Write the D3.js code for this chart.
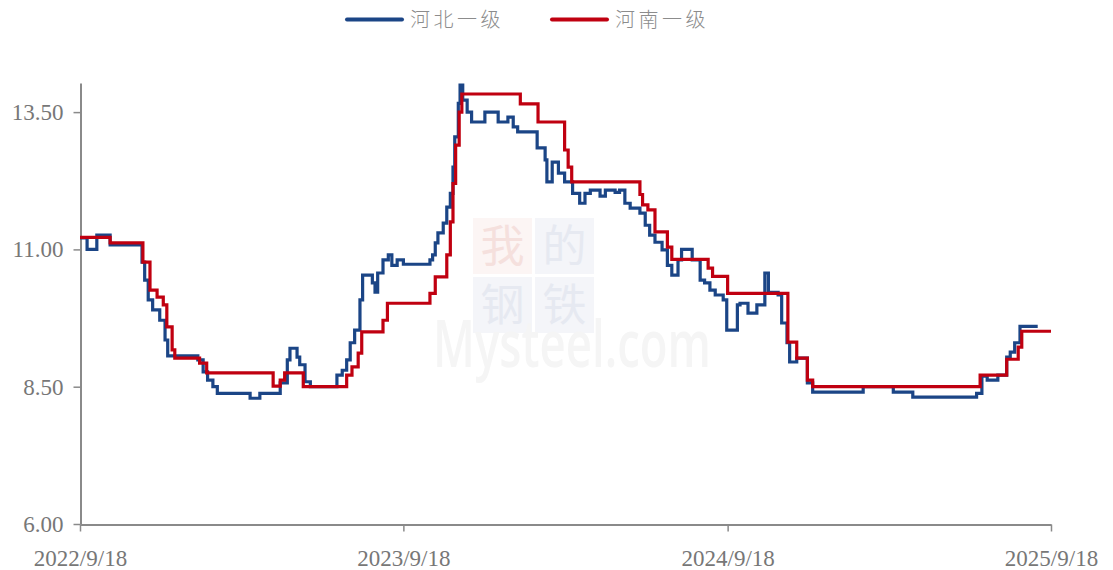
<!DOCTYPE html>
<html>
<head>
<meta charset="utf-8">
<script src="https://cdn.jsdelivr.net/npm/d3@7"></script>
<style>
  html, body { margin: 0; padding: 0; background: #fff; }
  svg { display: block; }
</style>
</head>
<body>
<svg id="chart" width="1113" height="570"></svg>
<script>
// ---------- DATA ----------
const seriesNames = ["河北一级", "河南一级"];
const xTickLabels = ["2022/9/18", "2023/9/18", "2024/9/18", "2025/9/18"];
const yTickValues = [6.00, 8.50, 11.00, 13.50];

const hebeiDates = [
  "2022-09-18","2022-09-26","2022-10-07","2022-10-22","2022-11-27","2022-11-30","2022-12-04","2022-12-09",
  "2022-12-17","2022-12-23","2022-12-26","2023-01-29","2023-02-04","2023-02-09","2023-02-15","2023-02-20",
  "2023-03-29","2023-04-09","2023-05-02","2023-05-10","2023-05-13","2023-05-21","2023-05-24","2023-05-30",
  "2023-06-05","2023-07-05","2023-07-11","2023-07-16","2023-07-20","2023-07-25","2023-07-31","2023-08-03",
  "2023-08-14","2023-08-17","2023-08-20","2023-08-26","2023-09-01","2023-09-05","2023-09-11","2023-09-18",
  "2023-10-18","2023-10-21","2023-10-24","2023-10-27","2023-11-02","2023-11-06","2023-11-10","2023-11-13",
  "2023-11-15","2023-11-19","2023-11-21","2023-11-24","2023-11-29","2023-12-04","2023-12-19","2024-01-03",
  "2024-01-14","2024-01-20","2024-01-25","2024-02-16","2024-02-25","2024-02-27","2024-03-04","2024-03-11",
  "2024-03-18","2024-03-27","2024-04-04","2024-04-10","2024-04-16","2024-04-27","2024-05-03","2024-05-14",
  "2024-05-19","2024-05-25","2024-05-31","2024-06-11","2024-06-17","2024-06-22","2024-06-28","2024-07-06",
  "2024-07-12","2024-07-17","2024-07-24","2024-07-28","2024-08-09","2024-08-18","2024-08-23","2024-08-29",
  "2024-09-04","2024-09-13","2024-09-17","2024-09-29","2024-10-02","2024-10-11","2024-10-21","2024-10-30",
  "2024-11-03","2024-11-14","2024-11-18","2024-11-24","2024-11-27","2024-12-05","2024-12-17","2024-12-23",
  "2025-02-18","2025-03-24","2025-04-15","2025-06-26","2025-07-02","2025-07-08","2025-07-20","2025-07-30",
  "2025-08-03","2025-08-08","2025-08-14","2025-09-03"
];
const hebeiValues = [
  11.21,11.00,11.26,11.08,10.77,10.44,10.08,9.90,
  9.71,9.35,9.06,8.99,8.77,8.62,8.50,8.38,
  8.29,8.38,8.57,8.99,9.20,9.04,8.90,8.59,
  8.50,8.71,8.80,8.99,9.30,9.53,10.08,10.53,
  10.39,10.22,10.57,10.81,10.90,10.71,10.81,10.73,
  10.81,10.90,11.12,11.30,11.48,11.77,12.02,12.50,
  13.05,13.66,13.99,13.72,13.50,13.32,13.50,13.32,
  13.41,13.23,13.14,12.85,12.63,12.23,12.59,12.39,
  12.23,12.02,11.84,12.02,12.08,11.97,12.08,12.04,
  12.08,11.84,11.75,11.66,11.44,11.26,11.13,10.99,
  10.71,10.53,10.81,11.00,10.81,10.44,10.39,10.26,
  10.17,10.08,9.53,9.99,10.02,9.84,9.99,10.57,
  10.22,10.17,9.66,9.30,8.95,9.02,8.57,8.40,
  8.50,8.40,8.31,8.38,8.69,8.62,8.71,9.04,
  9.13,9.30,9.60,9.60
];

const henanDates = [
  "2022-09-18","2022-10-22","2022-11-28","2022-12-06","2022-12-14","2022-12-21","2022-12-25","2022-12-31",
  "2023-01-03","2023-01-31","2023-02-08","2023-04-24","2023-05-02","2023-05-07","2023-05-28","2023-07-16",
  "2023-07-22","2023-07-29","2023-08-02","2023-08-26","2023-08-31","2023-10-18","2023-10-24","2023-11-06",
  "2023-11-10","2023-11-13","2023-11-16","2023-11-20","2023-11-23","2024-01-28","2024-02-17","2024-03-18",
  "2024-03-22","2024-03-26","2024-06-11","2024-06-14","2024-06-20","2024-06-28","2024-07-12","2024-07-17",
  "2024-08-27","2024-09-01","2024-09-18","2024-11-25","2024-12-05","2024-12-17","2024-12-23","2025-06-30",
  "2025-07-30","2025-08-12","2025-08-16","2025-09-18"
];
const henanValues = [
  11.22,11.12,10.77,10.26,10.13,9.99,9.59,9.17,
  9.02,8.93,8.75,8.51,8.62,8.75,8.50,8.71,
  8.86,9.11,9.50,9.71,10.02,10.20,10.50,10.90,
  11.50,12.20,12.90,13.50,13.83,13.65,13.32,12.81,
  12.50,12.23,12.00,11.81,11.72,11.32,11.04,10.82,
  10.66,10.51,10.20,9.31,9.02,8.62,8.50,8.71,
  9.00,9.22,9.51,9.51
];

const seriesColors = ["#1b4586", "#c00010"];

// ---------- CHART ----------
const parse = d3.timeParse("%Y-%m-%d");
const svg = d3.select("#chart");

const x = d3.scaleTime()
  .domain([parse("2022-09-18"), parse("2025-09-18")])
  .range([80, 1051]);
const y = d3.scaleLinear()
  .domain([6, 14.03])
  .range([524, 83]);

// Watermark (very faint)
const wm = svg.append("g").attr("class", "watermark");
const wmBoxes = [
  {c: "我", bg: "#fcf5f4", fg: "#f5e0dd", col: 0, row: 0},
  {c: "的", bg: "#f4f5f9", fg: "#e6e9f1", col: 1, row: 0},
  {c: "钢", bg: "#f4f5f9", fg: "#e6e9f1", col: 0, row: 1},
  {c: "铁", bg: "#f4f5f9", fg: "#e6e9f1", col: 1, row: 1}
];
wmBoxes.forEach(b => {
  const bx = 473 + b.col * 62, by = 218 + b.row * 59;
  wm.append("rect").attr("x", bx).attr("y", by).attr("width", 59).attr("height", 56).attr("fill", b.bg);
  wm.append("text").attr("x", bx + 29.5).attr("y", by + 44)
    .attr("text-anchor", "middle")
    .attr("font-family", "Noto Sans CJK SC")
    .attr("font-size", 44).attr("fill", b.fg).text(b.c);
});
wm.append("text").attr("x", 433).attr("y", 367)
  .attr("font-family", "Open Sans, Arial, sans-serif").attr("font-weight", 600)
  .attr("font-size", 66).attr("fill", "#f5f5f5").attr("textLength", 278)
  .attr("lengthAdjust", "spacingAndGlyphs")
  .text("Mysteel.com");

// Axes
const axisColor = "#8a8a8a";
const labelColor = "#777";
const fontSerif = "'Liberation Serif', 'Times New Roman', serif";

const xAxis = d3.axisBottom(x)
  .tickValues(xTickLabels.map(s => d3.timeParse("%Y/%m/%d")(s)))
  .tickFormat((d, i) => xTickLabels[i])
  .tickSizeInner(7).tickSizeOuter(0).tickPadding(18);
const gx = svg.append("g").attr("transform", "translate(0,524.5)").call(xAxis);
gx.select(".domain").attr("stroke", axisColor).attr("stroke-width", 2);
gx.selectAll(".tick line").attr("stroke", axisColor).attr("stroke-width", 1.5);
gx.selectAll(".tick text").attr("fill", labelColor).attr("font-family", fontSerif).attr("font-size", 23)
  .attr("dy", "0.71em");

const yAxis = d3.axisLeft(y)
  .tickValues(yTickValues)
  .tickFormat(d3.format(".2f"))
  .tickSizeInner(7).tickSizeOuter(0).tickPadding(10);
const gy = svg.append("g").attr("transform", "translate(80.5,0)").call(yAxis);
gy.select(".domain").attr("stroke", axisColor).attr("stroke-width", 2);
gy.selectAll(".tick line").attr("stroke", axisColor).attr("stroke-width", 1.5);
gy.selectAll(".tick text").attr("fill", labelColor).attr("font-family", fontSerif).attr("font-size", 23);

// Lines
const series = [
  {name: seriesNames[0], dates: hebeiDates, values: hebeiValues, color: seriesColors[0]},
  {name: seriesNames[1], dates: henanDates, values: henanValues, color: seriesColors[1]}
];
const line = d3.line()
  .x(d => x(d.date))
  .y(d => y(d.value))
  .curve(d3.curveStepAfter);

series.forEach(s => {
  const pts = s.dates.map((d, i) => ({date: parse(d), value: s.values[i]}));
  svg.append("path")
    .datum(pts)
    .attr("fill", "none")
    .attr("stroke", s.color)
    .attr("stroke-width", 3.2)
    .attr("stroke-linejoin", "miter")
    .attr("d", line);
});

// Legend
const legendItems = [
  {name: seriesNames[0], color: seriesColors[0], x: 347},
  {name: seriesNames[1], color: seriesColors[1], x: 552}
];
legendItems.forEach(it => {
  svg.append("line").attr("x1", it.x).attr("x2", it.x + 55).attr("y1", 19.5).attr("y2", 19.5)
    .attr("stroke", it.color).attr("stroke-width", 4).attr("stroke-linecap", "round");
  svg.append("text").attr("x", it.x + 63).attr("y", 19.5).attr("dy", "0.35em")
    .attr("font-family", "'Noto Sans CJK SC'").attr("font-weight", 300)
    .attr("font-size", 20).attr("letter-spacing", 3.5)
    .attr("fill", "#8c8c8c").text(it.name);
});
</script>
</body>
</html>
